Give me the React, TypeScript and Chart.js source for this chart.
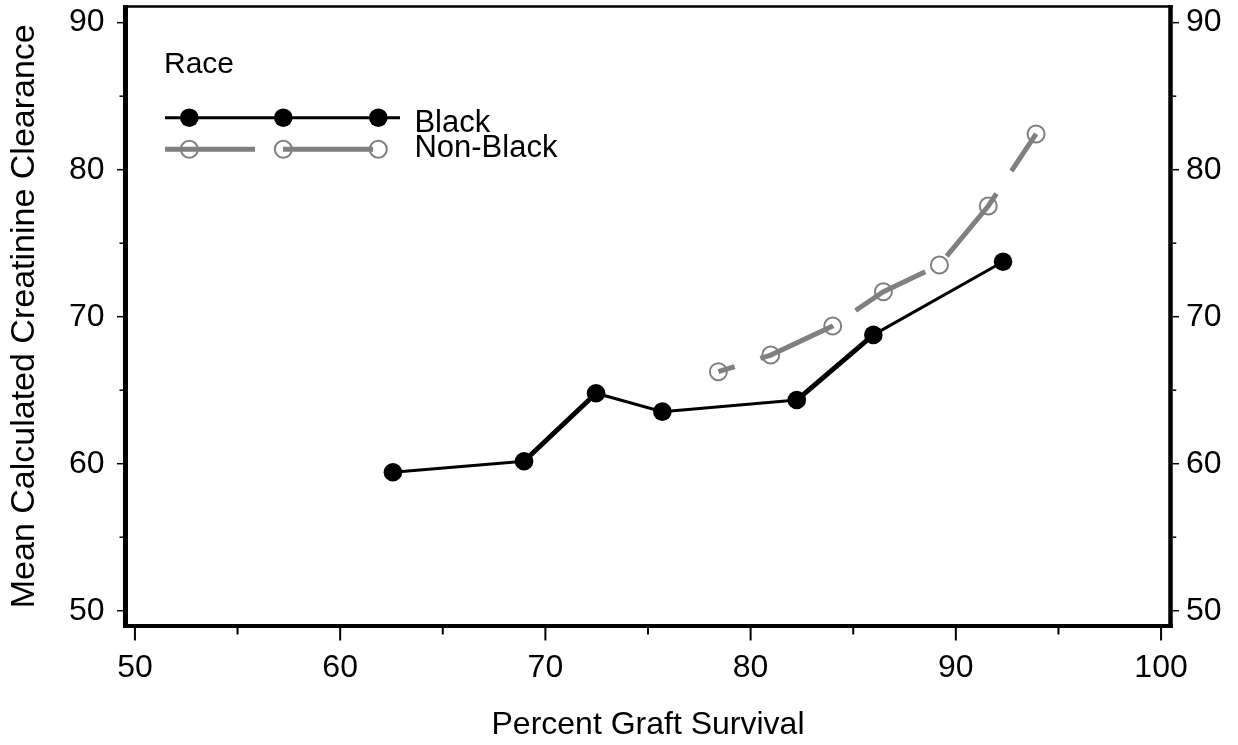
import React, { useEffect, useRef } from 'react';
import { Chart, registerables } from 'chart.js';

Chart.register(...registerables);

const FONT = "'Liberation Sans', Arial, Helvetica, sans-serif";

// ---- data ----
const legendTitle = 'Race';
const seriesNames = ['Black', 'Non-Black'];
const blackX = [62.57, 68.96, 72.47, 75.7, 82.25, 85.98, 92.3];
const blackY = [59.42, 60.17, 64.79, 63.54, 64.33, 68.76, 73.74];
const nonBlackX = [78.43, 80.98, 84.0, 86.47, 89.2, 91.58, 93.91];
const nonBlackY = [66.26, 67.39, 69.37, 71.7, 73.52, 77.53, 82.43];

const xMajorTicks = [50, 60, 70, 80, 90, 100];
const xMinorTicks = [55, 65, 75, 85, 95];
const yMajorTicks = [50, 60, 70, 80, 90];
const yMinorTicks = [55, 65, 75, 85];
const xAxisTitle = 'Percent Graft Survival';
const yAxisTitle = 'Mean Calculated Creatinine Clearance';
const xRange = [49.54, 100.46];
const yRange = [48.96, 91.1];

// ---- styles ----
const blackSegmentWidths = [3, 5, 3, 3, 5, 3];
const GRAY = '#808080';

const frameAndTicks = {
  id: 'frameAndTicks',
  afterDraw(chart: any) {
    const { ctx, chartArea: a, scales } = chart;
    ctx.save();
    ctx.strokeStyle = '#000';
    ctx.lineCap = 'butt';
    const seg = (x1: number, y1: number, x2: number, y2: number, w: number) => {
      ctx.beginPath();
      ctx.lineWidth = w;
      ctx.moveTo(x1, y1);
      ctx.lineTo(x2, y2);
      ctx.stroke();
    };
    const wTop = 2.5, wBottom = 4, wLeft = 5, wRight = 4.5;
    seg(a.left - wLeft / 2, a.top, a.right + wRight / 2, a.top, wTop);
    seg(a.left - wLeft / 2, a.bottom, a.right + wRight / 2, a.bottom, wBottom);
    seg(a.left, a.top - wTop / 2, a.left, a.bottom + wBottom / 2, wLeft);
    seg(a.right, a.top - wTop / 2, a.right, a.bottom + wBottom / 2, wRight);

    const xs = scales.x;
    const yl = scales.y;
    const yb = a.bottom + wBottom / 2;
    xMajorTicks.forEach((v) => { const p = xs.getPixelForValue(v); seg(p, yb, p, yb + 12.5, 2); });
    xMinorTicks.forEach((v) => { const p = xs.getPixelForValue(v); seg(p, yb, p, yb + 6.5, 2); });
    const xl = a.left - wLeft / 2;
    const xr = a.right + wRight / 2;
    yMajorTicks.forEach((v) => {
      const p = yl.getPixelForValue(v);
      seg(xl, p, xl - 6, p, 1.5);
      seg(xr, p, xr + 6.3, p, 1.5);
    });
    yMinorTicks.forEach((v) => {
      const p = yl.getPixelForValue(v);
      seg(xl, p, xl - 3.5, p, 1.5);
      seg(xr, p, xr + 3.5, p, 1.5);
    });
    ctx.restore();
  },
};

const legendPlugin = {
  id: 'raceLegend',
  afterDraw(chart: any) {
    const { ctx } = chart;
    const ds = chart.data.datasets;
    ctx.save();
    ctx.fillStyle = '#000';
    ctx.textAlign = 'left';
    ctx.textBaseline = 'alphabetic';
    ctx.font = `30px ${FONT}`;
    ctx.fillText(legendTitle, 164, 73.3);
    const rows = [
      { y: 117.7, ty: 131.7, dash: [] as number[] },
      { y: 149.3, ty: 156.7, dash: [90, 28] },
    ];
    const markerXs = [189.3, 283.3, 378.3];
    rows.forEach((r, i) => {
      const d = ds[i];
      ctx.save();
      ctx.beginPath();
      ctx.setLineDash(r.dash);
      ctx.lineDashOffset = 0;
      ctx.lineWidth = d.borderWidth;
      ctx.strokeStyle = d.borderColor;
      ctx.moveTo(165, r.y);
      ctx.lineTo(400, r.y);
      ctx.stroke();
      ctx.setLineDash([]);
      markerXs.forEach((mx) => {
        ctx.beginPath();
        ctx.arc(mx, r.y, d.pointRadius, 0, Math.PI * 2);
        ctx.fillStyle = d.pointBackgroundColor;
        ctx.fill();
        if (d.pointBorderWidth > 0) {
          ctx.lineWidth = d.pointBorderWidth;
          ctx.strokeStyle = d.pointBorderColor;
          ctx.stroke();
        }
      });
      ctx.restore();
      ctx.fillStyle = '#000';
      ctx.font = `31px ${FONT}`;
      ctx.fillText(seriesNames[i], 414.4, r.ty);
    });
    ctx.restore();
  },
};

export default function App() {
  const ref = useRef<HTMLCanvasElement | null>(null);
  useEffect(() => {
    if (!ref.current) return;
    Chart.defaults.font.family = FONT;
    Chart.defaults.color = '#000';
    const majorTicks = (vals: number[]) => (s: any) => {
      s.ticks = vals.map((v) => ({ value: v }));
    };
    const chart = new Chart(ref.current, {
      type: 'line',
      data: {
        datasets: [
          {
            label: seriesNames[0],
            data: blackX.map((x, i) => ({ x, y: blackY[i] })),
            borderColor: '#000',
            backgroundColor: '#000',
            borderWidth: 3,
            segment: { borderWidth: (c: any) => blackSegmentWidths[c.p0DataIndex] ?? 3 },
            pointRadius: 9.3,
            pointHoverRadius: 9.3,
            pointBackgroundColor: '#000',
            pointBorderColor: '#000',
            pointBorderWidth: 0,
            tension: 0,
            fill: false,
          } as any,
          {
            label: seriesNames[1],
            data: nonBlackX.map((x, i) => ({ x, y: nonBlackY[i] })),
            borderColor: GRAY,
            backgroundColor: GRAY,
            borderWidth: 5,
            borderDash: [80, 27],
            borderDashOffset: 63,
            pointRadius: 8.5,
            pointHoverRadius: 8.5,
            pointBackgroundColor: 'rgba(255,255,255,0)',
            pointBorderColor: GRAY,
            pointBorderWidth: 2,
            tension: 0,
            fill: false,
          } as any,
        ],
      },
      options: {
        animation: false,
        responsive: true,
        maintainAspectRatio: false,
        events: [],
        layout: { padding: { top: 6.5, left: 0, right: 0, bottom: 0 }, autoPadding: false } as any,
        plugins: { legend: { display: false }, tooltip: { enabled: false } },
        scales: {
          x: {
            type: 'linear',
            position: 'bottom',
            min: xRange[0],
            max: xRange[1],
            afterBuildTicks: majorTicks(xMajorTicks),
            afterFit: (s: any) => {
              s.height = 119;
              s.paddingLeft = 0;
              s.paddingRight = 0;
            },
            grid: { display: false, drawTicks: false },
            border: { display: false },
            ticks: {
              padding: 22.5,
              font: { size: 32 },
              color: '#000',
              maxRotation: 0,
              minRotation: 0,
              autoSkip: false,
              callback: (v: any) => String(v),
            },
            title: {
              display: true,
              text: xAxisTitle,
              color: '#000',
              font: { size: 32, lineHeight: 1 },
              padding: { top: 0, bottom: 4 },
            },
          },
          y: {
            type: 'linear',
            position: 'left',
            min: yRange[0],
            max: yRange[1],
            afterBuildTicks: majorTicks(yMajorTicks),
            afterFit: (s: any) => {
              s.width = 125.5;
              s.paddingTop = 0;
              s.paddingBottom = 0;
            },
            grid: { display: false, drawTicks: false },
            border: { display: false },
            ticks: {
              padding: 21,
              font: { size: 32 },
              color: '#000',
              autoSkip: false,
              callback: (v: any) => String(v),
            },
            title: {
              display: true,
              text: yAxisTitle,
              color: '#000',
              font: { size: 34, lineHeight: 1 },
              padding: { top: 7.9, bottom: 0 },
            },
          },
          y2: {
            type: 'linear',
            position: 'right',
            min: yRange[0],
            max: yRange[1],
            afterBuildTicks: majorTicks(yMajorTicks),
            afterFit: (s: any) => {
              s.width = 67.5;
              s.paddingTop = 0;
              s.paddingBottom = 0;
            },
            grid: { display: false, drawTicks: false },
            border: { display: false },
            ticks: {
              padding: 15.5,
              font: { size: 32 },
              color: '#000',
              autoSkip: false,
              callback: (v: any) => String(v),
            },
          },
        },
      } as any,
      plugins: [frameAndTicks, legendPlugin],
    });
    return () => chart.destroy();
  }, []);
  return (
    <div style={{ position: 'fixed', left: 0, top: 0, width: 1238, height: 745, background: '#fff' }}>
      <canvas ref={ref} />
    </div>
  );
}
